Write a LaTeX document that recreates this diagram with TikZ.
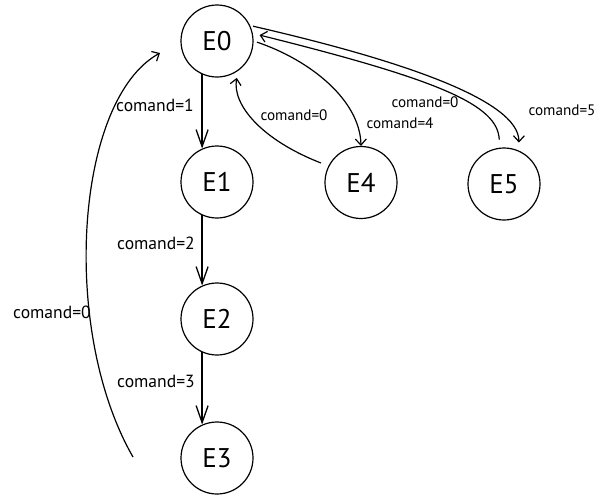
\documentclass[tikz,border=0pt]{standalone}
\usepackage{fontspec}
\setmainfont{PT Sans}
\usetikzlibrary{arrows.meta}
\tikzset{
    state/.style={draw,circle,line width=1.2pt,minimum size=72pt,inner sep=0pt,font=\fontsize{27}{30}\selectfont},
    lbl/.style={font=\fontsize{17.6}{20}\selectfont,inner sep=0pt},
    lbls/.style={font=\fontsize{15.2}{18}\selectfont,inner sep=0pt},
    go/.style={line width=1.3pt,-{Straight Barb[length=17pt,width=12pt]}},
    back/.style={line width=1.2pt,-{Straight Barb[length=6pt,width=11pt]}}
}
\begin{document}
\begin{tikzpicture}[x=1pt,y=-1pt]
                \useasboundingbox (0,0) rectangle (611,501);
                \node[state] (e0) at (217,41) {E0};
                \node[state] (e1) at (217,182) {E1};
                \node[state] (e2) at (217,319) {E2};
                \node[state] (e3) at (217,458) {E3};
                \node[state] (e4) at (361,182.5) {E4};
                \node[state] (e5) at (504,184) {E5};
                % main chain
                \draw[go] (e0.-114)--(e1.114);
                \draw[go] (e1.-114)--(e2.114);
                \draw[go] (e2.-114)--(e3.114);
                \node[lbl] (l1) at (155,105) {comand=1};
                \node[lbl] (l2) at (156,243) {comand=2};
                \node[lbl] (l3) at (156,381) {comand=3};
                % back to E0
                \coordinate (back3) at (133,457);
                \coordinate (back0) at (160,53);
                \draw[back] (back3) .. controls (60,330) and (75,100) .. (back0);
                \node[lbl] (l0) at (52,312) {comand=0};
                \draw[back,shorten <=3.5pt] (e0.0) .. controls (310,60) and (360,100) .. (e4.90);
                \draw[back,shorten <=8pt,shorten >=7pt] (e4.153) .. controls (262,140) and (232,105) .. (e0.-55);
                \draw[back,shorten <=3pt,shorten >=8pt] (e0.25) .. controls (400,60) and (519,100) .. (e5.66);
                \draw[back,shorten <=8pt,shorten >=7pt] (e5.97) .. controls (498,105) and (440,80) .. (e0.12);
                \node[lbls] (l04) at (294,115) {comand=0};
                \node[lbls] (l4) at (400,123) {comand=4};
                \node[lbls] (l05) at (425,102) {comand=0};
                \node[lbls] (l5) at (562,110) {comand=5};
            \end{tikzpicture}
\end{document}
